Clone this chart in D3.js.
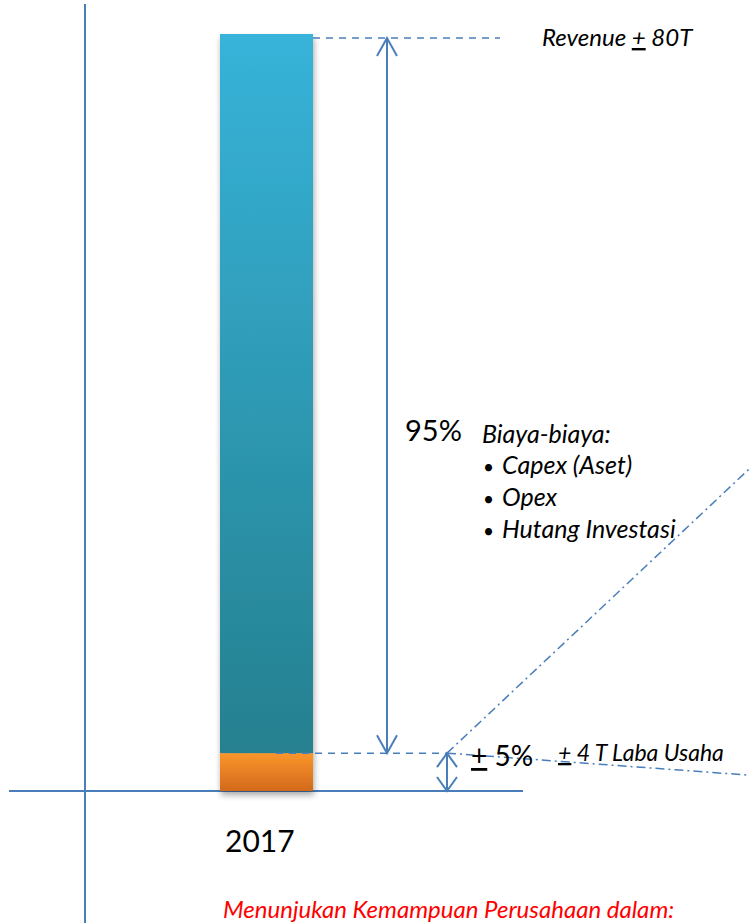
<!DOCTYPE html>
<html>
<head>
<meta charset="utf-8">
<script src="https://cdn.jsdelivr.net/npm/d3@7"></script>
<style>
  html, body { margin: 0; padding: 0; background: #fff; }
  svg { display: block; }
  text { font-family: Lato, "Open Sans", sans-serif; }
</style>
</head>
<body>
<svg id="chart" width="749" height="923"></svg>
<script>
// Revenue split for 2017 (trillion rupiah)
const categories = ["2017"];
const costValues = [76];     // Biaya-biaya
const profitValues = [4];    // Laba Usaha
const revenueValues = [80];  // Revenue
const costItems = ["Capex (Aset)", "Opex", "Hutang Investasi"];
const costShareLabel = "95%";
const profitShareLabel = "5%";

const svg = d3.select("#chart");
const lineColor = "#4a7ebb";

const x = d3.scaleBand().domain(categories).range([220, 313]).paddingInner(0);
const y = d3.scaleLinear().domain([0, 80]).range([791, 34]);

const defs = svg.append("defs");
const gBlue = defs.append("linearGradient").attr("id", "gBlue").attr("x1", 0).attr("y1", 0).attr("x2", 0).attr("y2", 1);
gBlue.append("stop").attr("offset", "0%").attr("stop-color", "#37b3d9");
gBlue.append("stop").attr("offset", "100%").attr("stop-color", "#25808f");
const gOrange = defs.append("linearGradient").attr("id", "gOrange").attr("x1", 0).attr("y1", 0).attr("x2", 0).attr("y2", 1);
gOrange.append("stop").attr("offset", "0%").attr("stop-color", "#fb962b");
gOrange.append("stop").attr("offset", "100%").attr("stop-color", "#d2691d");
const shadow = defs.append("filter").attr("id", "shadow").attr("x", "-20%").attr("y", "-5%").attr("width", "140%").attr("height", "115%");
shadow.append("feDropShadow").attr("dx", 1).attr("dy", 4).attr("stdDeviation", 3)
  .attr("flood-color", "#000").attr("flood-opacity", 0.35);

// Axis lines
svg.append("line").attr("x1", 85).attr("x2", 85).attr("y1", 4).attr("y2", 923)
  .attr("stroke", lineColor).attr("stroke-width", 2);
svg.append("line").attr("x1", 9).attr("x2", 523).attr("y1", y(0)).attr("y2", y(0))
  .attr("stroke", lineColor).attr("stroke-width", 2);

// Stacked bar: profit at the bottom, costs on top
const stackData = categories.map((c, i) => ({ cat: c, cost: costValues[i], profit: profitValues[i] }));
const series = d3.stack().keys(["profit", "cost"])(stackData);
const fills = { profit: "url(#gOrange)", cost: "url(#gBlue)" };
const barG = svg.append("g").attr("filter", "url(#shadow)");
series.forEach(s => {
  barG.selectAll(null).data(s).join("rect")
    .attr("x", d => x(d.data.cat))
    .attr("width", x.bandwidth())
    .attr("y", d => y(d[1]))
    .attr("height", d => y(d[0]) - y(d[1]))
    .attr("fill", fills[s.key]);
});

const topY = y(revenueValues[0]) + 4;
const splitY = y(profitValues[0]);
const baseY = y(0);
const barRight = x(categories[0]) + x.bandwidth();

// Dashed guide lines
svg.append("line").attr("x1", barRight).attr("x2", 500).attr("y1", topY).attr("y2", topY)
  .attr("stroke", lineColor).attr("stroke-width", 1.5).attr("stroke-dasharray", "7,6");
svg.append("line").attr("x1", 276).attr("x2", 447).attr("y1", splitY).attr("y2", splitY)
  .attr("stroke", lineColor).attr("stroke-width", 1.5).attr("stroke-dasharray", "7,6");

// Dash-dot leader lines
svg.append("line").attr("x1", 447).attr("y1", splitY).attr("x2", 749).attr("y2", splitY - 284)
  .attr("stroke", lineColor).attr("stroke-width", 1.5).attr("stroke-dasharray", "9,4,2,4");
svg.append("line").attr("x1", 447).attr("y1", splitY).attr("x2", 749).attr("y2", splitY + 22)
  .attr("stroke", lineColor).attr("stroke-width", 1.5).attr("stroke-dasharray", "9,4,2,4");

// Double-headed arrows
function doubleArrow(ax, y1, y2, head) {
  const g = svg.append("g").attr("stroke", lineColor).attr("stroke-width", 2).attr("fill", "none");
  g.append("line").attr("x1", ax).attr("x2", ax).attr("y1", y1).attr("y2", y2);
  g.append("path").attr("d", `M${ax - 10},${y1 + head}L${ax},${y1}L${ax + 10},${y1 + head}`);
  g.append("path").attr("d", `M${ax - 10},${y2 - head}L${ax},${y2}L${ax + 10},${y2 - head}`);
}
doubleArrow(387, topY, splitY, 18);
doubleArrow(447, splitY, baseY, 14);

// Text annotations
const rev = svg.append("text").attr("x", 542).attr("y", 46).attr("font-size", 24)
  .attr("font-style", "italic").attr("fill", "#000");
rev.append("tspan").text("Revenue ");
rev.append("tspan").attr("text-decoration", "underline").text("+");
rev.append("tspan").text(" " + revenueValues[0] + "T");

svg.append("text").attr("x", 405).attr("y", 441).attr("font-size", 29).attr("fill", "#000")
  .text(costShareLabel);
svg.append("text").attr("x", 482).attr("y", 443).attr("font-size", 25)
  .attr("font-style", "italic").attr("fill", "#000").text("Biaya-biaya:");
costItems.forEach((t, i) => {
  const ty = 474 + i * 32;
  svg.append("text").attr("x", 483).attr("y", ty).attr("font-size", 19).attr("fill", "#000").text("•");
  svg.append("text").attr("x", 502).attr("y", ty).attr("font-size", 25)
    .attr("font-style", "italic").attr("fill", "#000").text(t);
});

const pct = svg.append("text").attr("x", 471).attr("y", 766).attr("font-size", 28).attr("fill", "#000");
pct.append("tspan").attr("text-decoration", "underline").text("+");
pct.append("tspan").text(" " + profitShareLabel);

const laba = svg.append("text").attr("x", 558).attr("y", 761).attr("font-size", 23)
  .attr("font-style", "italic").attr("fill", "#000");
laba.append("tspan").attr("text-decoration", "underline").text("+");
laba.append("tspan").text(" " + profitValues[0] + " T Laba Usaha");

svg.append("text").attr("x", 225).attr("y", 852).attr("font-size", 30).attr("fill", "#000")
  .text(categories[0]);

svg.append("text").attr("x", 223).attr("y", 918).attr("font-size", 24)
  .attr("font-style", "italic").attr("fill", "#ff0000")
  .text("Menunjukan Kemampuan Perusahaan dalam:");
</script>
</body>
</html>
